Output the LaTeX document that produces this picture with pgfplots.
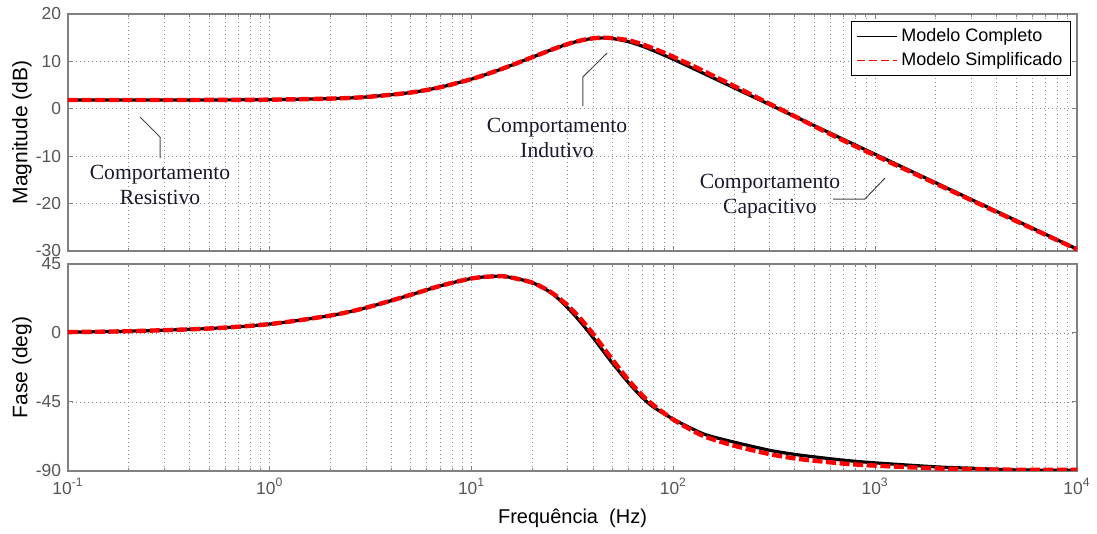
\documentclass[border=0pt]{standalone}
\usepackage{fontspec}
\setmainfont{Liberation Sans}
\newfontfamily\annotfont{Liberation Serif}
\usepackage{pgfplots}
\usepackage{pgfplotstable}
\pgfplotsset{compat=1.18}

\definecolor{framegray}{RGB}{128,128,128}
\definecolor{tickgray}{RGB}{85,85,85}
\definecolor{gridgray}{RGB}{140,140,140}
\definecolor{annotcol}{RGB}{25,25,45}
\definecolor{leadgray}{RGB}{70,70,70}

% Magnitude (dB): full model and simplified model
\pgfplotstableread{
f      mag
0.1    1.85
0.2    1.85
0.5    1.87
1      1.93
2      2.15
3      2.49
5      3.43
7      4.56
10     6.27
13     7.87
15     8.83
20     10.89
25     12.49
30     13.67
35     14.44
40     14.85
45     14.96
50     14.82
60     14.14
70     13.22
80     12.24
100    10.44
130    8.19
150    6.94
200    4.42
300    0.88
400    -1.63
500    -3.57
700    -6.50
1000   -9.60
2000   -15.62
3000   -19.15
5000   -23.58
10000  -29.60
}\magfull

\pgfplotstableread{
f      mag
0.1    1.85
0.2    1.85
0.5    1.87
1      1.93
2      2.15
3      2.49
5      3.43
7      4.56
10     6.27
13     7.87
15     8.83
20     10.89
25     12.49
30     13.67
35     14.44
40     14.87
45     15.00
50     14.90
60     14.45
70     13.60
80     12.70
100    10.95
130    8.70
150    7.40
200    4.80
300    1.05
400    -1.60
500    -3.70
700    -6.75
1000   -9.85
2000   -15.80
3000   -19.30
5000   -23.70
10000  -29.65
}\magsimp

% Phase (deg)
\pgfplotstableread{
f      ph
0.1    0.59
0.2    1.17
0.5    2.93
1      5.83
2      11.40
3      16.5
5      24.92
7      30.76
10     35.58
13     37.0
15     36.65
20     32.82
25     25.8
30     16.3
35     6.5
40     -3.0
45     -12.0
50     -19.8
60     -32.5
70     -42.0
80     -48.5
100    -56.2
130    -63.8
150    -67.0
200    -71.2
300    -76.5
400    -79.2
500    -80.8
700    -83.0
1000   -84.7
2000   -87.3
3000   -88.2
5000   -89.3
10000  -89.6
}\phfull

\pgfplotstableread{
f      ph
0.1    0.59
0.2    1.17
0.5    2.93
1      5.83
2      11.40
3      16.5
5      24.92
7      30.76
10     35.58
13     37.0
15     36.65
20     32.82
25     26.18
30     17.85
35     8.65
40     -0.68
45     -9.55
50     -17.6
60     -30.8
70     -40.6
80     -47.3
100    -56.5
130    -65.0
150    -68.5
200    -73.5
300    -79.0
400    -81.8
500    -83.3
700    -85.2
1000   -86.5
2000   -88.3
3000   -88.8
5000   -89.2
10000  -89.3
}\phsimp

\begin{document}
\begin{tikzpicture}
% ---- magnitude ----
\begin{axis}[
  xmode=log,
  scale only axis, width=504.5pt, height=118.5pt,
  at={(0pt,0pt)}, anchor=north west,
  xmin=0.1, xmax=10000,
  ymin=-30, ymax=20,
  axis line style={framegray, line width=0.6pt},
  tick style={framegray, line width=0.5pt},
  major tick length=2.5pt, minor tick length=1.5pt,
  tick align=inside,
  xtick={0.1,1,10,100,1000,10000},
  minor xtick={0.2,0.3,0.4,0.5,0.6,0.7,0.8,0.9,2,3,4,5,6,7,8,9,20,30,40,50,60,70,80,90,200,300,400,500,600,700,800,900,2000,3000,4000,5000,6000,7000,8000,9000},
  xmajorgrids=true, xminorgrids=true, ymajorgrids=true,
  major grid style={gridgray, line width=0.45pt, dash pattern=on 0.5pt off 1.5pt},
  minor grid style={gridgray, line width=0.45pt, dash pattern=on 0.5pt off 1.5pt},
  ytick={-30,-20,-10,0,10,20},
  yticklabels={-30,-20,-10,0,10,20},
  xticklabels={},
  yticklabel style={font=\fontsize{8.7}{10}\selectfont, color=tickgray},
  ylabel={Magnitude (dB)},
  ylabel style={font=\fontsize{10.5}{12}\selectfont, at={(axis description cs:-0.0456,0.5)}, anchor=center},
  legend style={at={(0.994,0.970)}, anchor=north east, draw=black, line width=0.5pt,
    font=\fontsize{9}{10.5}\selectfont, inner xsep=2pt, inner ysep=1.5pt,
    cells={anchor=west}},
]
\addplot[black, line width=1.6pt, smooth,
  legend image code/.code={\draw[black, line width=0.6pt] (0pt,0pt)--(20pt,0pt);}]
  table[x=f, y=mag] {\magfull};
\addlegendentry{Modelo Completo}
\addplot[red, line width=2.2pt, dash pattern=on 5pt off 1.8pt, smooth,
  legend image code/.code={\draw[red, line width=0.8pt, dash pattern=on 4pt off 2pt] (0pt,0pt)--(20pt,0pt);}]
  table[x=f, y=mag] {\magsimp};
\addlegendentry{Modelo Simplificado}

% annotations with leader lines
\draw[leadgray, line width=0.5pt] (axis cs:0.2275,-1.73) -- (axis cs:0.2858,-5.95) -- (axis cs:0.2858,-10.38);
\node[text=annotcol, font=\annotfont\fontsize{10.8}{12.5}\selectfont, align=center]
  at (axis cs:0.2858,-15.97) {Comportamento\\Resistivo};

\draw[leadgray, line width=0.5pt] (axis cs:35.6,0.57) -- (axis cs:35.6,6.7) -- (axis cs:46.9,11.77);
\node[text=annotcol, font=\annotfont\fontsize{10.8}{12.5}\selectfont, align=center]
  at (axis cs:26.5,-6.16) {Comportamento\\Indutivo};

\draw[leadgray, line width=0.5pt] (axis cs:618,-19.03) -- (axis cs:889,-19.03) -- (axis cs:1119,-14.6);
\node[text=annotcol, font=\annotfont\fontsize{10.8}{12.5}\selectfont, align=center]
  at (axis cs:301,-18.4) {Comportamento\\Capacitivo};
\end{axis}

% ---- phase ----
\begin{axis}[
  xmode=log,
  scale only axis, width=504.5pt, height=103.5pt,
  at={(0pt,-125pt)}, anchor=north west,
  xmin=0.1, xmax=10000,
  ymin=-90, ymax=45,
  axis line style={framegray, line width=0.6pt},
  tick style={framegray, line width=0.5pt},
  major tick length=2.5pt, minor tick length=1.5pt,
  tick align=inside,
  xtick={0.1,1,10,100,1000,10000},
  minor xtick={0.2,0.3,0.4,0.5,0.6,0.7,0.8,0.9,2,3,4,5,6,7,8,9,20,30,40,50,60,70,80,90,200,300,400,500,600,700,800,900,2000,3000,4000,5000,6000,7000,8000,9000},
  xmajorgrids=true, xminorgrids=true, ymajorgrids=true,
  major grid style={gridgray, line width=0.45pt, dash pattern=on 0.5pt off 1.5pt},
  minor grid style={gridgray, line width=0.45pt, dash pattern=on 0.5pt off 1.5pt},
  ytick={-90,-45,0,45},
  yticklabels={-90,-45,0,45},
  xticklabels={10\textsuperscript{-1},10\textsuperscript{0},10\textsuperscript{1},10\textsuperscript{2},10\textsuperscript{3},10\textsuperscript{4}},
  yticklabel style={font=\fontsize{8.7}{10}\selectfont, color=tickgray},
  xticklabel style={font=\fontsize{8.7}{10}\selectfont, color=tickgray},
  ylabel={Fase (deg)},
  ylabel style={font=\fontsize{10.5}{12}\selectfont, at={(axis description cs:-0.0456,0.5)}, anchor=center},
  xlabel={Frequência\ \ (Hz)},
  xlabel style={font=\fontsize{10}{12}\selectfont, at={(axis description cs:0.5,0)}, anchor=center, yshift=-23.5pt},
]
\addplot[black, line width=1.6pt, smooth] table[x=f, y=ph] {\phfull};
\addplot[red, line width=2.2pt, dash pattern=on 5pt off 1.8pt, smooth] table[x=f, y=ph] {\phsimp};
\end{axis}

\pgfresetboundingbox
\path (-34pt,7pt) rectangle (514.5pt,-260pt);
\end{tikzpicture}
\end{document}
